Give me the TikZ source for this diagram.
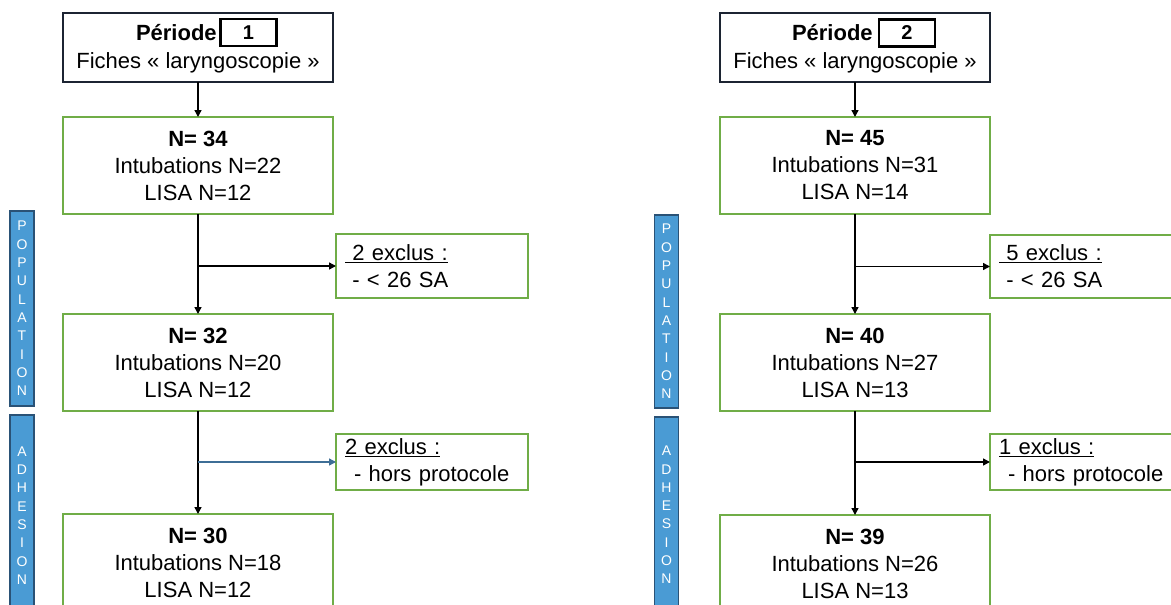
\documentclass[tikz,border=0pt]{standalone}
\usepackage{fontspec}
\setmainfont{Liberation Sans}
\usetikzlibrary{arrows.meta,calc}
\definecolor{boxgreen}{RGB}{112,173,71}
\definecolor{topline}{RGB}{28,36,50}
\definecolor{barblue}{RGB}{74,155,212}
\definecolor{bardark}{RGB}{42,82,118}
\definecolor{arrowblue}{RGB}{62,110,150}
\begin{document}
\begin{tikzpicture}[x=1pt,y=-1pt,
  every node/.style={font=\fontsize{22}{27}\selectfont, inner sep=0pt, outer sep=0pt},
  topbox/.style={draw=topline, line width=1.5pt, minimum width=270pt, minimum height=69pt},
  numbox/.style={draw=black, line width=2.8pt, fill=white, minimum width=56pt, minimum height=27pt, font=\fontsize{20}{24}\selectfont\bfseries},
  mainbox/.style={draw=boxgreen, line width=1.6pt, minimum width=270pt, minimum height=97pt, align=center},
  exclbox/.style={draw=boxgreen, line width=1.6pt, text width=174pt, inner xsep=9pt, align=left},
  sidebar/.style={draw=bardark, fill=barblue, line width=1.5pt, minimum width=24pt, text=white, font=\fontsize{14}{18.3}\selectfont, align=center},
  flow/.style={draw=black, line width=1.4pt, -{Triangle[length=7pt,width=7pt]}},
  flowblue/.style={draw=arrowblue, line width=1.4pt, -{Triangle[length=7pt,width=7pt]}}
]
\useasboundingbox (0,0) rectangle (1171,605);
\clip (0,0) rectangle (1171,605);

% ---------- Panel 1 ----------
\node[topbox] (t1) at (198,47.5) {};
\node[anchor=west] (p1lab) at (136,33) {\textbf{Période :}};
\node[numbox] (n1) at (248.5,32.5) {1};
\node (f1) at (198,63) {Fiches « laryngoscopie »};
\node[mainbox] (b1) at (198,165.5) {\textbf{N= 34}\\Intubations N=22\\LISA N=12};
\node[mainbox] (b2) at (198,362.5) {\textbf{N= 32}\\Intubations N=20\\LISA N=12};
\node[mainbox] (b3) at (198,562.5) {\textbf{N= 30}\\Intubations N=18\\LISA N=12};
\node[exclbox, minimum height=64pt] (e1) at (432,266) {\underline{\ 2 exclus :}\\\ - < 26 SA};
\node[exclbox, minimum height=56pt] (e2) at (432,462) {\underline{2 exclus :}\\\hspace{9pt}- hors protocole};
\node[sidebar, minimum height=195pt] (s1) at (22,308.5) {P\\O\\P\\U\\L\\A\\T\\I\\O\\N};
\node[sidebar, minimum height=201pt] (s2) at (22,515.5) {A\\D\\H\\E\\S\\I\\O\\N};

\draw[flow] (t1.south) -- (b1.north);
\draw[flow] (b1.south) -- (b2.north);
\draw[flow] (b2.south) -- (b3.north);
\draw[flow] (b1.south |- e1.west) -- (e1.west);
\draw[flowblue] (b2.south |- e2.west) -- (e2.west);

% ---------- Panel 2 ----------
\node[topbox] (t2) at (855,47.5) {};
\node[anchor=west] (p2lab) at (792,33) {\textbf{Période :}};
\node[numbox] (n2) at (907,33) {2};
\node (f2) at (855,63) {Fiches « laryngoscopie »};
\node[mainbox] (b4) at (855,165.5) {\textbf{N= 45}\\Intubations N=31\\LISA N=14};
\node[mainbox] (b5) at (855,362.5) {\textbf{N= 40}\\Intubations N=27\\LISA N=13};
\node[mainbox] (b6) at (855,563.5) {\textbf{N= 39}\\Intubations N=26\\LISA N=13};
\node[exclbox, minimum height=63pt] (e3) at (1086,266.5) {\underline{\ 5 exclus :}\\\ - < 26 SA};
\node[exclbox, minimum height=56pt] (e4) at (1086,462) {\underline{1 exclus :}\\\hspace{9pt}- hors protocole};
\node[sidebar, minimum height=193pt] (s3) at (666.5,311.5) {P\\O\\P\\U\\L\\A\\T\\I\\O\\N};
\node[sidebar, minimum height=196pt] (s4) at (666.5,515) {A\\D\\H\\E\\S\\I\\O\\N};

\draw[flow] (t2.south) -- (b4.north);
\draw[flow] (b4.south) -- (b5.north);
\draw[flow] (b5.south) -- (b6.north);
\draw[flow] (b4.south |- e3.west) -- (e3.west);
\draw[flow] (b5.south |- e4.west) -- (e4.west);
\end{tikzpicture}
\end{document}
